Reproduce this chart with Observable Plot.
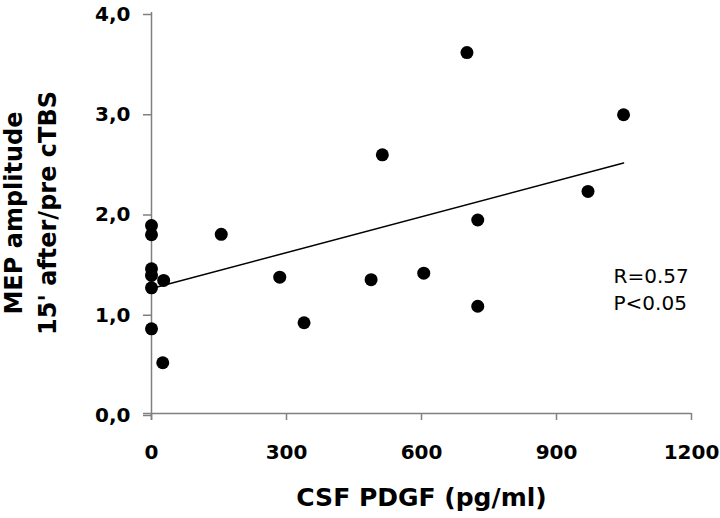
<!DOCTYPE html>
<html><head><meta charset="utf-8">
<script src="https://cdn.jsdelivr.net/npm/d3@7"></script>
<script src="https://cdn.jsdelivr.net/npm/@observablehq/plot@0.6"></script>
<style>html,body{margin:0;padding:0;background:#fff}</style>
</head><body><div id="chart"></div>
<script>
// CSF PDGF (pg/ml) and MEP amplitude ratio (15' after / pre cTBS)
const pdgf = [701, 1049, 513, 970, 725, 0, 0, 155, 0, 0, 27, 0, 285, 488, 605, 725, 339, 0, 25];
const mep  = [3.60, 2.98, 2.58, 2.215, 1.93, 1.875, 1.783, 1.787, 1.443, 1.377, 1.327, 1.254, 1.36, 1.335, 1.40, 1.07, 0.905, 0.845, 0.506];
const xTicks = [0, 300, 600, 900, 1200];
const yTicks = [0, 1, 2, 3, 4];
const xTitle = ["CSF PDGF (pg/ml)"];
const yTitle = ["MEP amplitude", "15' after/pre cTBS"];
const stats = ["R=0.57", "P<0.05"];

const data = pdgf.map((x, i) => ({x, y: mep[i]}));
const axisColor = "#808080";

const chart = Plot.plot({
  width: 720,
  height: 518,
  marginLeft: 151,
  marginRight: 29,
  marginTop: 12,
  marginBottom: 105,
  style: {fontFamily: "DejaVu Sans", background: "#fff", color: "#000", overflow: "visible"},
  x: {domain: [0, 1200]},
  y: {domain: [0, 4]},
  marks: [
    Plot.ruleY([0], {stroke: axisColor, strokeWidth: 1.5, insetLeft: -8}),
    Plot.ruleX([0], {stroke: axisColor, strokeWidth: 1.5, insetBottom: -7}),
    Plot.axisX(xTicks, {tickSize: 7, tickPadding: 24, tickFormat: d => String(d), stroke: axisColor, strokeWidth: 1.5, fill: "#000", fontSize: 20, fontWeight: "bold", label: null}),
    Plot.axisY(yTicks, {tickSize: 8, tickPadding: 13, tickFormat: d => d.toFixed(1).replace(".", ","), stroke: axisColor, strokeWidth: 1.5, fill: "#000", fontSize: 20, fontWeight: "bold", dy: 2, label: null}),
    Plot.linearRegressionY(data, {x: "x", y: "y", stroke: "#000", strokeWidth: 1.5, ci: 0}),
    Plot.dot(data, {x: "x", y: "y", r: 6.5, fill: "#000", stroke: null}),
    Plot.text([yTitle.join("\n")], {text: d => d, frameAnchor: "left", rotate: -90, textAnchor: "middle", lineAnchor: "bottom", lineHeight: 1.38, dx: -96, dy: 0, fontSize: 24, fontWeight: "bold", fill: "#000"}),
    Plot.text(xTitle, {text: d => d, frameAnchor: "bottom", lineAnchor: "bottom", dy: 92, fontSize: 25, fontWeight: "bold", fill: "#000"}),
    Plot.text([stats.join("\n")], {text: d => d, frameAnchor: "right", textAnchor: "start", lineAnchor: "top", lineHeight: 1.38, dx: -78, dy: 50, fontSize: 20, fill: "#000"})
  ]
});
document.getElementById("chart").appendChild(chart);
</script>
</body></html>
